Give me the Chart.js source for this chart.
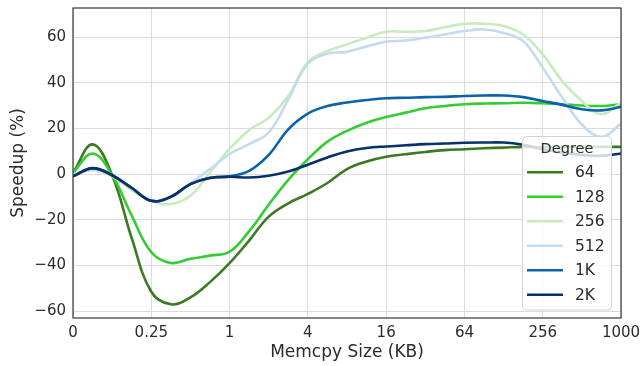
<html>
<head>
<script src="https://cdn.jsdelivr.net/npm/chart.js@4.4.0/dist/chart.umd.min.js"></script>
<style>
body { margin: 0; background: #ffffff; }
</style>
</head>
<body>
<canvas id="speedChart" width="642" height="366"></canvas>
<script>
// memcpy sizes sit on an evenly spaced axis, two tick labels per factor of 4
var sizeLabels = ["0", "0.25", "1", "4", "16", "64", "256", "1000"];
var samplePos = [0, 0.25, 0.5, 0.75, 1, 1.25, 1.5, 1.75, 2, 2.25, 2.5, 2.75, 3, 3.25, 3.5, 3.75,
                 4, 4.25, 4.5, 4.75, 5, 5.25, 5.5, 5.75, 6, 6.25, 6.5, 6.75, 7];
var yTicks = [-60, -40, -20, 0, 20, 40, 60];

var degreeNames = ["64", "128", "256", "512", "1K", "2K"];
var degreeColors = ["#3a7a20", "#33cc33", "#c7ebbd", "#c3dbee", "#0a62aa", "#08306b"];

// speedup (%) per degree
var speed64  = [0.5, 13, -0.5, -28, -51.5, -57, -54, -47.3, -39, -29.1, -18.6, -12.8, -8.7, -3.9, 2.2, 5.5,
                7.6, 8.7, 9.7, 10.5, 10.9, 11.3, 11.6, 11.9, 11.8, 11.8, 11.9, 11.9, 11.9];
var speed128 = [0.5, 9, -0.5, -18.2, -34.2, -38.9, -37.1, -35.7, -34, -25, -13.4, -2.5, 6.5, 14.2, 18.9, 22.5,
                25, 26.9, 28.8, 29.8, 30.6, 30.9, 31, 31.2, 31, 30.6, 30, 29.8, 30.6];
var speed256 = [0, 1.7, -1, -7, -11.7, -13.1, -9.5, 0.7, 11, 19.3, 24.7, 34.2, 49, 53.8, 56.8, 59.7,
                62.3, 62.3, 62.6, 64.3, 65.8, 65.8, 64.8, 61.1, 52.4, 40.7, 32, 26.2, 31.3];
var speed512 = [-0.5, 2, -0.7, -6, -11.5, -10, -4, 2.2, 8.8, 13.1, 18.2, 32.7, 48.3, 52.7, 53.5, 55.9,
                57.9, 58.5, 59.7, 61.1, 62.6, 63.3, 61.8, 58.2, 46.6, 33.5, 21.8, 16.3, 22];
var speed1K  = [-1, 2.5, -0.5, -6, -11.7, -10, -4.4, -1.6, -1, 1.4, 8.4, 19.6, 26.5, 29.8, 31.3, 32.4,
                33.2, 33.4, 33.7, 33.8, 34.2, 34.4, 34.4, 33.7, 32, 30.3, 28.4, 27.9, 29.4];
var speed2K  = [-1, 2.6, -0.5, -6.1, -11.7, -9.9, -4.4, -1.7, -1.2, -1.5, -0.7, 1.1, 4.1, 7.3, 9.9, 11.4,
                12.1, 12.6, 13.1, 13.4, 13.7, 13.8, 13.8, 12.8, 10.9, 9.4, 8.4, 8, 9];

var allSpeeds = [speed64, speed128, speed256, speed512, speed1K, speed2K];
var fontFamily = "'DejaVu Sans', sans-serif";
var textColor = "#2b2b2b";

var datasets = [];
for (var i = 0; i < degreeNames.length; i++) {
    datasets.push({
        label: degreeNames[i],
        data: samplePos.map(function (x, j) { return { x: x, y: allSpeeds[i][j] }; }),
        borderColor: degreeColors[i],
        backgroundColor: degreeColors[i],
        order: degreeNames.length - 1 - i   // later degrees on top
    });
}

// frame round the plot plus the "Degree" box in the lower right
var frameAndLegend = {
    id: 'frameAndLegend',
    afterDatasetsDraw: function (chart) {
        var ctx = chart.ctx;
        var a = chart.chartArea;
        ctx.save();
        ctx.strokeStyle = "#3d3d3d";
        ctx.lineWidth = 1.25;
        ctx.strokeRect(a.left, a.top, a.right - a.left, a.bottom - a.top);

        var bx = 522.5, by = 136.5, bw = 89, bh = 173.5, r = 4;
        ctx.beginPath();
        ctx.moveTo(bx + r, by);
        ctx.arcTo(bx + bw, by, bx + bw, by + bh, r);
        ctx.arcTo(bx + bw, by + bh, bx, by + bh, r);
        ctx.arcTo(bx, by + bh, bx, by, r);
        ctx.arcTo(bx, by, bx + bw, by, r);
        ctx.closePath();
        ctx.fillStyle = "rgba(255,255,255,0.8)";
        ctx.fill();
        ctx.strokeStyle = "#d4d4d4";
        ctx.lineWidth = 1;
        ctx.stroke();

        ctx.fillStyle = textColor;
        ctx.textBaseline = "middle";
        ctx.textAlign = "center";
        ctx.font = "14.5px " + fontFamily;
        ctx.fillText("Degree", 567, 149);

        ctx.textAlign = "left";
        ctx.font = "15.5px " + fontFamily;
        for (var k = 0; k < degreeNames.length; k++) {
            var ly = 172.3 + k * 24.5;
            ctx.strokeStyle = degreeColors[k];
            ctx.lineWidth = 2.6;
            ctx.beginPath();
            ctx.moveTo(527, ly);
            ctx.lineTo(563, ly);
            ctx.stroke();
            ctx.fillStyle = textColor;
            ctx.fillText(degreeNames[k], 575, ly + 1);
        }
        ctx.restore();
    }
};

new Chart(document.getElementById('speedChart').getContext('2d'), {
    type: 'line',
    data: { datasets: datasets },
    plugins: [frameAndLegend],
    options: {
        responsive: false,
        animation: false,
        layout: { padding: { top: 8, right: 21, left: 0, bottom: 0 } },
        plugins: { legend: { display: false }, tooltip: { enabled: false } },
        elements: {
            point: { radius: 0 },
            line: { borderWidth: 2.6, tension: 0.4 }
        },
        scales: {
            x: {
                type: 'linear',
                min: 0,
                max: 7,
                afterBuildTicks: function (s) { s.ticks = sizeLabels.map(function (l, i) { return { value: i }; }); },
                afterFit: function (s) { s.height = 48; s.paddingLeft = 0; s.paddingRight = 0; },
                ticks: {
                    callback: function (v) { return sizeLabels[v]; },
                    font: { family: fontFamily, size: 15 },
                    color: textColor,
                    padding: 6,
                    maxRotation: 0,
                    autoSkip: false
                },
                grid: { color: "#dcdcdc", lineWidth: 1, drawTicks: false },
                border: { display: false },
                title: {
                    display: true,
                    text: 'Memcpy Size (KB)',
                    font: { family: fontFamily, size: 17 },
                    color: textColor,
                    padding: { top: 0, bottom: 3.5 }
                }
            },
            y: {
                min: -63,
                max: 72.7,
                afterBuildTicks: function (s) { s.ticks = yTicks.map(function (v) { return { value: v }; }); },
                afterFit: function (s) { s.width = 73; s.paddingTop = 0; s.paddingBottom = 0; },
                ticks: {
                    callback: function (v) { return v < 0 ? '\u2212' + Math.abs(v) : String(v); },
                    font: { family: fontFamily, size: 15 },
                    color: textColor,
                    padding: 7
                },
                grid: { color: "#dcdcdc", lineWidth: 1, drawTicks: false },
                border: { display: false },
                title: {
                    display: true,
                    text: 'Speedup (%)',
                    font: { family: fontFamily, size: 17 },
                    color: textColor,
                    padding: { top: 8.5, bottom: 0 }
                }
            }
        }
    }
});
</script>
</body>
</html>
